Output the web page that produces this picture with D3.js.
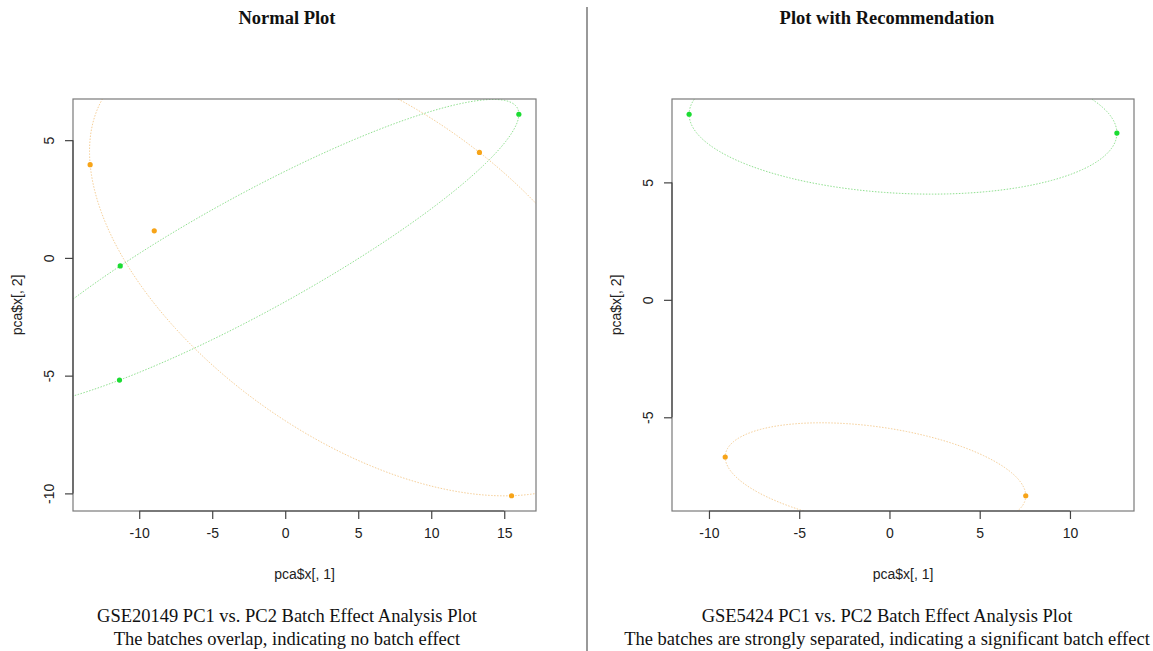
<!DOCTYPE html>
<html>
<head>
<meta charset="utf-8">
<script src="https://cdn.jsdelivr.net/npm/d3@7"></script>
<style>
  html, body { margin: 0; padding: 0; background: #ffffff; }
  svg { display: block; }
</style>
</head>
<body>
<svg id="chart" width="1153" height="651"></svg>
<script>
// ---------------- DATA ----------------
// Left panel (GSE20149)
const leftGreenX = [-11.3, -11.35, 16.0];
const leftGreenY = [-0.34, -5.19, 6.1];
const leftOrangeX = [-13.36, -8.97, 13.3, 15.5];
const leftOrangeY = [3.96, 1.15, 4.48, -10.1];
// ellipse: [centerX, centerY, varX, covXY, varY]
const leftGreenEllipse = [-2.217, 0.19, 331.85, 107.74, 42.77];
const leftOrangeEllipse = [5.147, -0.553, 344.1, -94.22, 91.23];
const leftXTicks = [-10, -5, 0, 5, 10, 15];
const leftYTicks = [-10, -5, 0, 5];

// Right panel (GSE5424)
const rightGreenX = [-11.1, 12.6];
const rightGreenY = [7.9, 7.1];
const rightOrangeX = [-9.1, 7.55];
const rightOrangeY = [-6.69, -8.34];
const rightGreenEllipse = [0.75, 7.5, 140.4, -4.74, 9.0];
const rightOrangeEllipse = [-0.775, -7.515, 69.3, -6.87, 5.2];
const rightXTicks = [-10, -5, 0, 5, 10];
const rightYTicks = [-5, 0, 5];

const panelTitles = ["Normal Plot", "Plot with Recommendation"];
const captionLine1 = ["GSE20149 PC1 vs. PC2 Batch Effect Analysis Plot", "GSE5424 PC1 vs. PC2 Batch Effect Analysis Plot"];
const captionLine2 = ["The batches overlap, indicating no batch effect", "The batches are strongly separated, indicating a significant batch effect"];
const xAxisTitle = "pca$x[, 1]";
const yAxisTitle = "pca$x[, 2]";

// ---------------- DRAW ----------------
const svg = d3.select("#chart");
const GREEN = "#1bdc32", ORANGE = "#f7a418";
const GREEN_LINE = "#8fe08f", ORANGE_LINE = "#f6cf98";

function rRange(vals) {
  const [a, b] = d3.extent(vals);
  const pad = (b - a) * 0.04;
  return [a - pad, b + pad];
}

function ellipsePoints(e) {
  const [cx, cy, sxx, sxy, syy] = e;
  const l11 = Math.sqrt(sxx), l21 = sxy / l11, l22 = Math.sqrt(syy - l21 * l21);
  return d3.range(0, 361).map(i => {
    const t = i / 360 * 2 * Math.PI;
    return [cx + l11 * Math.cos(t), cy + l21 * Math.cos(t) + l22 * Math.sin(t)];
  });
}

const panels = [
  { id: "L", box: [73, 99, 536, 511], center: 287,
    gx: leftGreenX, gy: leftGreenY, ox: leftOrangeX, oy: leftOrangeY,
    ge: leftGreenEllipse, oe: leftOrangeEllipse, xt: leftXTicks, yt: leftYTicks },
  { id: "R", box: [672, 99, 1134, 511], center: 887,
    gx: rightGreenX, gy: rightGreenY, ox: rightOrangeX, oy: rightOrangeY,
    ge: rightGreenEllipse, oe: rightOrangeEllipse, xt: rightXTicks, yt: rightYTicks }
];

const serif = "'Liberation Serif', 'Times New Roman', serif";
const sans = "'Liberation Sans', Arial, sans-serif";

panels.forEach((p, pi) => {
  const [x0, y0, x1, y1] = p.box;
  const x = d3.scaleLinear().domain(rRange(p.gx.concat(p.ox))).range([x0, x1]);
  const y = d3.scaleLinear().domain(rRange(p.gy.concat(p.oy))).range([y1, y0]);
  const g = svg.append("g");

  g.append("clipPath").attr("id", "clip" + p.id)
    .append("rect").attr("x", x0).attr("y", y0).attr("width", x1 - x0).attr("height", y1 - y0);

  const line = d3.line().x(d => x(d[0])).y(d => y(d[1]));
  const ell = g.append("g").attr("clip-path", `url(#clip${p.id})`);
  ell.append("path").attr("d", line(ellipsePoints(p.ge)))
    .attr("fill", "none").attr("stroke", GREEN_LINE).attr("stroke-width", 1)
    .attr("stroke-dasharray", "1.5,1.5");
  ell.append("path").attr("d", line(ellipsePoints(p.oe)))
    .attr("fill", "none").attr("stroke", ORANGE_LINE).attr("stroke-width", 1)
    .attr("stroke-dasharray", "1.5,1.5");

  // points
  g.selectAll(".go").data(p.ox.map((v, i) => [v, p.oy[i]])).enter().append("circle")
    .attr("cx", d => x(d[0])).attr("cy", d => y(d[1])).attr("r", 2.6).attr("fill", ORANGE);
  g.selectAll(".gg").data(p.gx.map((v, i) => [v, p.gy[i]])).enter().append("circle")
    .attr("cx", d => x(d[0])).attr("cy", d => y(d[1])).attr("r", 2.6).attr("fill", GREEN);

  // box
  g.append("rect").attr("x", x0).attr("y", y0).attr("width", x1 - x0).attr("height", y1 - y0)
    .attr("fill", "none").attr("stroke", "#7a7a7a").attr("stroke-width", 1.2);

  // axes
  const fmt = d => String(d);
  const xAxis = d3.axisBottom(x).tickValues(p.xt).tickSize(8).tickPadding(9).tickFormat(fmt);
  const gx = g.append("g").attr("transform", `translate(0,${y1})`).call(xAxis);
  const yAxis = d3.axisLeft(y).tickValues(p.yt).tickSize(8).tickPadding(10).tickFormat(fmt);
  const gy = g.append("g").attr("transform", `translate(${x0},0)`).call(yAxis);
  [gx, gy].forEach(a => {
    a.select(".domain").remove();
    a.selectAll("line").attr("stroke", "#444").attr("stroke-width", 1.2);
    a.selectAll("text").attr("fill", "#222").style("font-family", sans).style("font-size", "14px");
  });
  // axis lines from first to last tick (R style)
  g.append("line").attr("x1", x(p.xt[0])).attr("x2", x(p.xt[p.xt.length - 1]))
    .attr("y1", y1).attr("y2", y1).attr("stroke", "#444").attr("stroke-width", 1.2);
  g.append("line").attr("y1", y(p.yt[0])).attr("y2", y(p.yt[p.yt.length - 1]))
    .attr("x1", x0).attr("x2", x0).attr("stroke", "#444").attr("stroke-width", 1.2);
  // rotate y tick labels (R las=0)
  gy.selectAll(".tick text")
    .attr("x", null).attr("dy", null)
    .attr("text-anchor", "middle")
    .attr("transform", "translate(-19,0) rotate(-90)")
    .attr("y", 0);

  // axis titles
  g.append("text").attr("x", (x0 + x1) / 2).attr("y", 579).attr("text-anchor", "middle")
    .style("font-family", sans).style("font-size", "14px")
    .attr("fill", "#222").text(xAxisTitle);
  g.append("text").attr("transform", `translate(${x0 - 51},${(y0 + y1) / 2}) rotate(-90)`)
    .attr("text-anchor", "middle")
    .style("font-family", sans).style("font-size", "14px")
    .attr("fill", "#222").text(yAxisTitle);

  // panel title
  svg.append("text").attr("x", p.center).attr("y", 24).attr("text-anchor", "middle")
    .style("font-family", serif).style("font-size", "18.5px")
    .style("font-weight", "bold").attr("fill", "#111").text(panelTitles[pi]);
  // captions
  svg.append("text").attr("x", p.center).attr("y", 622).attr("text-anchor", "middle")
    .style("font-family", serif).style("font-size", "18.5px")
    .attr("fill", "#111").text(captionLine1[pi]);
  svg.append("text").attr("x", p.center).attr("y", 645).attr("text-anchor", "middle")
    .style("font-family", serif).style("font-size", "18.5px")
    .attr("fill", "#111").text(captionLine2[pi]);
});

// divider
svg.append("line").attr("x1", 587).attr("x2", 587).attr("y1", 7).attr("y2", 651)
  .attr("stroke", "#777").attr("stroke-width", 1.5);
</script>
</body>
</html>
